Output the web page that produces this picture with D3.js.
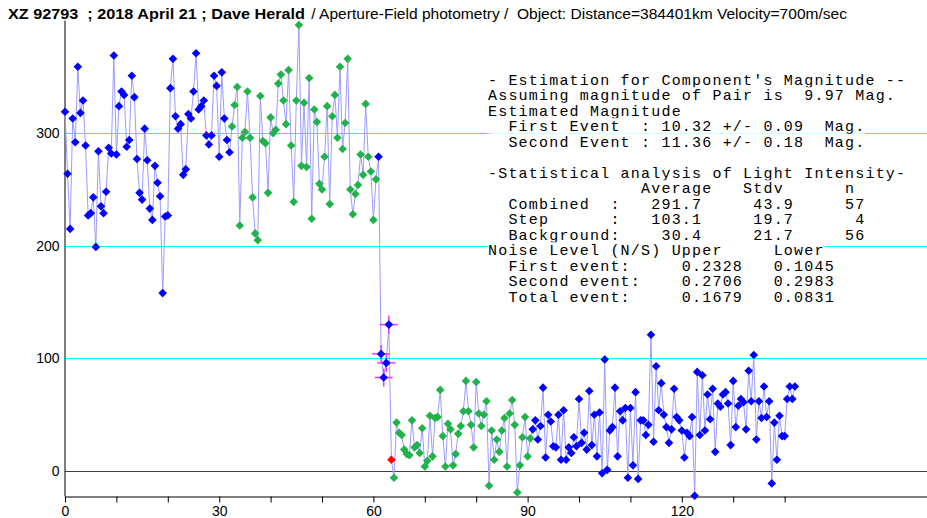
<!DOCTYPE html>
<html>
<head>
<meta charset="utf-8">
<script src="https://cdn.jsdelivr.net/npm/d3@7"></script>
<style>
  body { margin: 0; background: #fff; }
  svg { display: block; }
</style>
</head>
<body>
<svg id="chart" width="927" height="518"></svg>
<script>
// Light intensity per video frame (frame interval 0.5 on the time axis)
const intensity = [
  319, 264, 215, 313, 292, 359, 318, 329, 289, 227,
  229, 243, 199, 284, 235, 229, 248, 287, 282, 369,
  281, 324, 337, 334, 288, 294, 351, 332, 277, 247,
  241, 304, 276, 233, 223, 271, 256, 244, 158, 226,
  227, 340, 366, 315, 304, 308, 263, 268, 317, 313,
  337, 371, 321, 324, 329, 298, 290, 298, 351, 342,
  279, 354, 313, 294, 283, 306, 325, 341, 218, 296,
  301, 337, 296, 243, 211, 205, 333, 293, 291, 247,
  314, 300, 303, 344, 352, 329, 308, 356, 289, 239,
  329, 396, 271, 327, 270, 349, 224, 321, 310, 255,
  250, 279, 324, 237, 315, 334, 296, 359, 286, 309,
  366, 250, 228, 246, 254, 281, 263, 326, 279, 266,
  223, 259, 279, 104, 83, 96, 130, 10, -6, 43,
  34, 32, 19, 15, 14, 45, 21, 23, 16, 38,
  4, 9, 49, 13, 47, 48, 72, 31, 4, 42,
  37, 5, 15, 33, 40, 53, 80, 53, 41, 21,
  79, 51, 40, 50, 62, -13, 36, 10, 28, 17,
  36, 47, 4, 51, 63, 41, -19, 5, 30, 48,
  13, 29, 37, 45, 28, 40, 74, 12, 50, 44,
  22, 21, 50, 10, 54, 10, 21, 16, 30, 22,
  64, 25, 34, 19, 71, 23, 50, 13, 52, -2,
  99, 1, 36, 39, 74, 13, 53, 45, 56, -6,
  56, 5, 70, -7, 45, 45, 32, 41, 121, 26,
  93, 54, 78, 50, 39, 25, 37, 73, 48, 45,
  36, 12, 34, 31, 48, -22, 88, 32, 85, 36,
  68, 46, 73, 17, 60, 57, 68, 70, 60, 23,
  80, 39, 58, 64, 61, 37, 89, 62, 103, 28,
  62, 47, 75, 48, 62, -11, 43, 10, 49, 31,
  31, 64, 75, 64, 75
];
const frameInterval = 0.5;

// Frame index ranges used by the analysis
const combinedFrames = [65, 121];    // occulted pair, both stars
const stepFrames = [123, 126];       // intermediate step
const markerFrame = 127;             // disappearance marker
const backgroundFrames = [128, 181]; // background level

const yTickValues = [0, 100, 200, 300];
const xTickValues = [0, 10, 20, 30, 40, 50, 60, 70, 80, 90, 100, 110, 120, 130, 140];
const xLabelEvery = 30;

const titleBold = "XZ 92793  ; 2018 April 21 ; Dave Herald";
const titleRest = " / Aperture-Field photometry /  Object: Distance=384401km Velocity=700m/sec";

const reportLines = [
  "- Estimation for Component's Magnitude --",
  "Assuming magnitude of Pair is  9.97 Mag.",
  "Estimated Magnitude",
  "  First Event  : 10.32 +/- 0.09  Mag.",
  "  Second Event : 11.36 +/- 0.18  Mag.",
  "",
  "-Statistical analysis of Light Intensity-",
  "               Average   Stdv      n",
  "  Combined  :   291.7     43.9     57",
  "  Step      :   103.1     19.7      4",
  "  Background:    30.4     21.7     56",
  "Noise Level (N/S) Upper     Lower",
  "  First event:     0.2328   0.1045",
  "  Second event:    0.2706   0.2983",
  "  Total event:     0.1679   0.0831"
];

const W = 927, H = 518;
const svg = d3.select("#chart");
const sans = "Arial, 'Liberation Sans', sans-serif";

const x = d3.scaleLinear().domain([0, 167.7]).range([65, W]);
const y = d3.scaleLinear().domain([-22.2, 400.5]).range([496, 20]);

const pts = intensity.map((v, i) => ({ t: i * frameInterval, v, i }));

// horizontal reference lines
svg.append("g").selectAll("line")
  .data(yTickValues)
  .join("line")
  .attr("x1", x(0)).attr("x2", W)
  .attr("y1", d => Math.round(y(d)) + 0.5).attr("y2", d => Math.round(y(d)) + 0.5)
  .attr("stroke", d => d === 0 ? "#404040" : "#00ffff")
  .attr("stroke-width", 1);

// y axis
const yAxis = d3.axisLeft(y).tickValues(yTickValues).tickSize(0).tickPadding(5);
const gy = svg.append("g").attr("transform", `translate(${x(0) - 0.5},0)`).call(yAxis);
gy.select(".domain").attr("stroke", "#000");
gy.selectAll("text").attr("font-family", sans).attr("font-size", 14).attr("fill", "#000");

// x axis
const xAxis = d3.axisBottom(x).tickValues(xTickValues).tickSize(6).tickSizeOuter(0)
  .tickFormat(d => d % xLabelEvery === 0 ? d : "");
const gx = svg.append("g").attr("transform", `translate(0,${496.5})`).call(xAxis);
gx.select(".domain").attr("stroke", "#000");
gx.selectAll(".tick line").attr("stroke", "#000");
gx.selectAll("text").attr("font-family", sans).attr("font-size", 14).attr("fill", "#000")
  .attr("y", 19).attr("dy", 0);

// light curve
const line = d3.line().x(d => x(d.t)).y(d => y(d.v));
svg.append("path")
  .datum(pts)
  .attr("d", line)
  .attr("fill", "none")
  .attr("stroke", "#9c9cff")
  .attr("stroke-width", 1);

// crosses on the step frames
const stepPts = pts.filter(d => d.i >= stepFrames[0] && d.i <= stepFrames[1]);
const cross = svg.append("g").attr("stroke", "#ff30ff").attr("stroke-width", 1.5);
stepPts.forEach(d => {
  const cx = x(d.t), cy = y(d.v);
  cross.append("line").attr("x1", cx - 9).attr("x2", cx + 9).attr("y1", cy).attr("y2", cy);
  cross.append("line").attr("x1", cx).attr("x2", cx).attr("y1", cy - 9).attr("y2", cy + 9);
});

function pointColor(i) {
  if (i === markerFrame) return "#ff0000";
  if ((i >= combinedFrames[0] && i <= combinedFrames[1]) ||
      (i >= backgroundFrames[0] && i <= backgroundFrames[1])) return "#22b24c";
  return "#0000ff";
}

const r = 4.3;
svg.append("g").selectAll("path")
  .data(pts)
  .join("path")
  .attr("transform", d => `translate(${x(d.t)},${y(d.v)})`)
  .attr("d", `M0,${-r}L${r},0L0,${r}L${-r},0Z`)
  .attr("fill", d => pointColor(d.i));

// title: bold identification, then the method and object details
svg.append("text").attr("x", 8).attr("y", 19)
  .attr("font-family", sans).attr("font-weight", "bold").attr("font-size", 15.5)
  .attr("fill", "#000").attr("xml:space", "preserve").style("white-space", "pre")
  .attr("textLength", 297).attr("lengthAdjust", "spacingAndGlyphs")
  .text(titleBold);
svg.append("text").attr("x", 307).attr("y", 19)
  .attr("font-family", sans).attr("font-size", 14)
  .attr("fill", "#000").attr("xml:space", "preserve").style("white-space", "pre")
  .attr("textLength", 540).attr("lengthAdjust", "spacingAndGlyphs")
  .text(titleRest);

// statistics report
const rep = svg.append("g");
const charW = 10.2, lineH = 15.5, repX = 488, repY0 = 79.5;
reportLines.forEach((s, k) => {
  if (!s.length) return;
  const cy = repY0 + k * lineH;
  rep.append("rect").attr("x", repX).attr("y", cy - lineH / 2)
    .attr("width", s.length * charW).attr("height", lineH).attr("fill", "#fff");
  rep.append("text").attr("x", repX).attr("y", cy).attr("dy", "0.36em")
    .attr("font-family", "'Liberation Mono', 'DejaVu Sans Mono', monospace")
    .attr("font-size", 15)
    .attr("letter-spacing", charW - 15 * 0.6)
    .attr("xml:space", "preserve")
    .style("white-space", "pre")
    .attr("fill", "#000")
    .text(s);
});
</script>
</body>
</html>
